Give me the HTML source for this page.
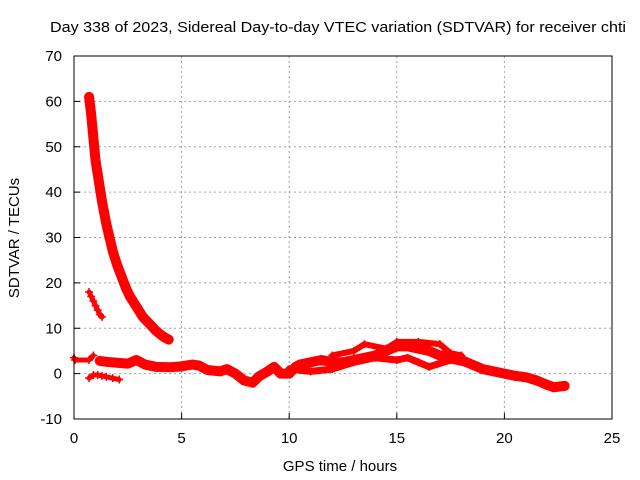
<!DOCTYPE html>
<html><head><meta charset="utf-8"><style>
body{margin:0;background:#fff}
svg{display:block;font-family:"Liberation Sans",sans-serif}
</style></head><body>
<svg id="chart" width="640" height="480" viewBox="0 0 640 480">
<rect width="640" height="480" fill="#fff"/>
<text x="338" y="32" font-size="15" text-anchor="middle" textLength="576" lengthAdjust="spacingAndGlyphs" fill="#000">Day 338 of 2023, Sidereal Day-to-day VTEC variation (SDTVAR) for receiver chti</text>
<text x="340" y="471" font-size="15" text-anchor="middle">GPS time / hours</text>
<text transform="translate(19,238) rotate(-90)" font-size="15" text-anchor="middle">SDTVAR / TECUs</text>
<g id="grid"></g>
<g id="axes"></g>
<g id="marks"></g>
<rect x="74" y="56" width="538" height="363" fill="none" stroke="#000" stroke-width="1"/>
</svg>
<script>
const xTicks=[0,5,10,15,20,25];
const yTicks=[-10,0,10,20,30,40,50,60,70];
const decayT=[0.7,0.8,0.9,1.0,1.1,1.2,1.3,1.4,1.5,1.6,1.7,1.8,1.9,2.0,2.2,2.4,2.6,2.8,3.0,3.2,3.4,3.6,3.8,4.0,4.2,4.4];
const decayV=[61,57,52,47,44,41,38,35.5,33,31,29,27,25.5,24,21.5,19,17,15.5,14,12.5,11.5,10.5,9.5,8.7,8,7.5];
const shortT=[0.7,0.8,0.9,1.0,1.1,1.2,1.3];
const shortV=[18,17,16,15,14,13,12.5];
const lowT=[0.7,0.9,1.1,1.3,1.5,1.8,2.1];
const lowV=[-1,-0.3,-0.3,-0.5,-0.7,-1,-1.3];
const startT=[0.0,0.05,0.7,0.9];
const startV=[3.5,3,3,4];
const mainT=[1.2,1.5,2.0,2.5,2.9,3.3,3.8,4.5,5,5.5,5.8,6.2,6.8,7.1,7.5,7.9,8.3,8.6,9.0,9.3,9.6,10,10.3,10.5,11,11.5,12,12.5,13,13.5,14,14.5,15,15.5,16,16.5,17,17.5,18,18.5,19,19.5,20,20.5,21,21.5,22,22.3,22.8];
const mainV=[2.8,2.6,2.4,2.2,3,2,1.5,1.4,1.6,2,1.8,0.8,0.5,1,0,-1.5,-2,-0.6,0.5,1.5,0,0,1.5,2,2.5,3,2.5,2.5,3,3.5,4,5,6,6,5.5,5,4,4,3,2,1,0.5,0,-0.5,-0.8,-1.5,-2.5,-3,-2.7];
const lowerT=[10,11,12,13,14,15,15.5,16,16.5,17.5,18.5];
const lowerV=[1,0.5,1,2.5,3.5,3,3.5,2.5,1.5,3,2];
const upperT=[12,13,13.5,14.5,15,16,17,17.5,18];
const upperV=[4,5,6.5,5.5,7,7,6.5,4.5,4];
const series=[[decayT,decayV,10],[shortT,shortV,5],[lowT,lowV,5],[startT,startV,5],[mainT,mainV,10],[lowerT,lowerV,7],[upperT,upperV,6]];

const X=t=>74+t*(538/25);
const Y=v=>419-(v+10)*(363/80);
const NS='http://www.w3.org/2000/svg';
const grid=document.getElementById('grid'),axes=document.getElementById('axes'),marks=document.getElementById('marks');
function mk(tag,attrs,parent){const e=document.createElementNS(NS,tag);for(const k in attrs)e.setAttribute(k,attrs[k]);parent.appendChild(e);return e;}
xTicks.forEach(t=>{
  if(t>0&&t<25){const g=mk('line',{x1:X(t),x2:X(t),y1:56,y2:419,stroke:'#a0a0a0','stroke-dasharray':'2,3'},grid);
  
  }
  const tk=mk('line',{x1:X(t),x2:X(t),y1:419,y2:413,stroke:'#000'},axes);
  
  
  const l=mk('text',{x:X(t),y:443,'font-size':15,'text-anchor':'middle'},axes);l.textContent=t;
  
  
});
yTicks.forEach(v=>{
  if(v>-10&&v<70){const g=mk('line',{x1:74,x2:612,y1:Y(v),y2:Y(v),stroke:'#a0a0a0','stroke-dasharray':'2,3'},grid);
  
  }
  const tk=mk('line',{x1:74,x2:80,y1:Y(v),y2:Y(v),stroke:'#000'},axes);
  
  
  const l=mk('text',{x:62,y:Y(v)+5,'font-size':15,'text-anchor':'end'},axes);l.textContent=v;
  
  
});
series.forEach(([ts,vs,w])=>{
  const pts=ts.map((t,i)=>X(t)+','+Y(vs[i])).join(' ');
  const pl=mk('polyline',{points:pts,fill:'none',stroke:'#f00','stroke-width':w,'stroke-linejoin':'round','stroke-linecap':'round'},marks);
  
  
  ts.forEach((t,i)=>{
    const p=mk('path',{d:`M${X(t)-4},${Y(vs[i])}h8M${X(t)},${Y(vs[i])-4}v8`,stroke:'#f00','stroke-width':1.5},marks);
    
    
  });
});
</script>
</body></html>
